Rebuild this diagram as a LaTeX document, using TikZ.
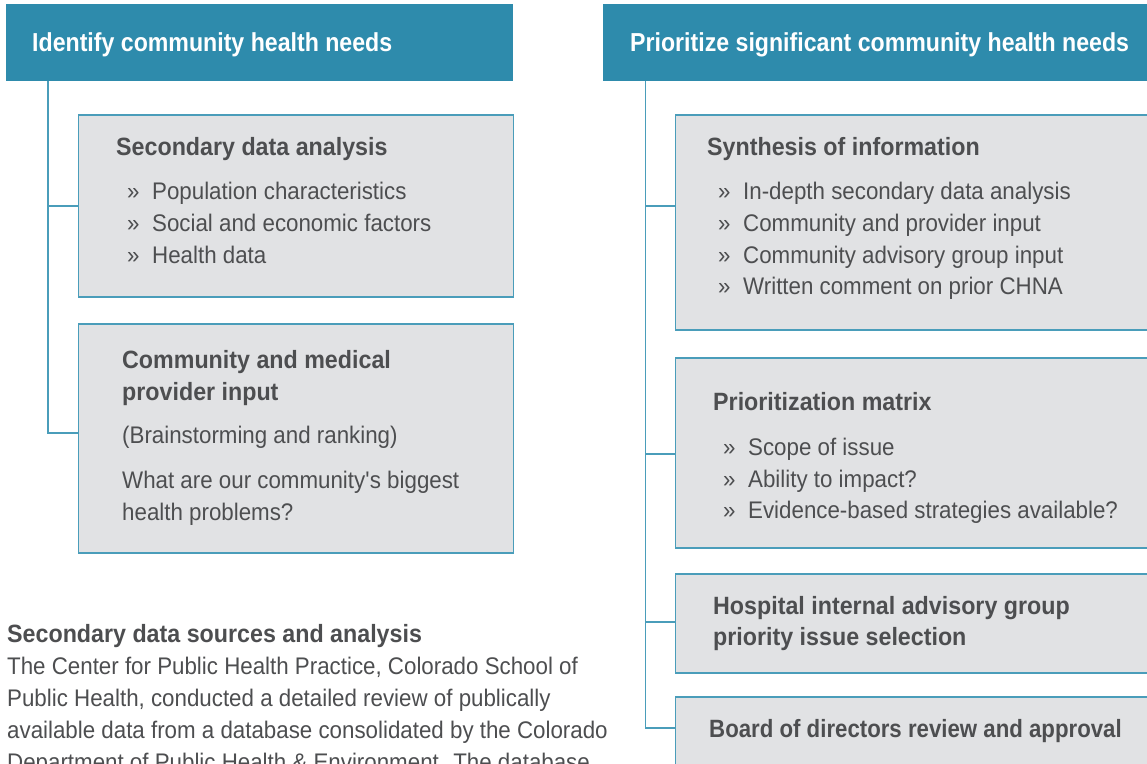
\documentclass[tikz,border=0pt]{standalone}
\usepackage{fontspec}
\setmainfont{Liberation Sans}[FakeStretch=0.93]
\newfontfamily\hdrfont{Liberation Sans}[FakeStretch=0.89]
\definecolor{hdr}{HTML}{2E8BAC}
\definecolor{boxfill}{HTML}{E1E2E4}
\definecolor{boxline}{HTML}{4A9DBA}
\definecolor{txt}{HTML}{4D4E50}
\newcommand{\bul}{\makebox[25pt][l]{»}}
\begin{document}
\begin{tikzpicture}[x=1pt,y=-1pt,
  header/.style={fill=hdr, draw=none, anchor=north west, inner sep=0pt, outer sep=0pt},
  box/.style={fill=boxfill, draw=boxline, line width=1.2pt, anchor=north west, inner sep=0pt, outer sep=0pt},
  conn/.style={draw=boxline, line width=1.3pt},
  htext/.style={anchor=base west, text=white, font=\hdrfont\bfseries\fontsize{26}{30}\selectfont, inner sep=0pt},
  btitle/.style={anchor=base west, text=txt, font=\bfseries\fontsize{25}{30}\selectfont, inner sep=0pt},
  btext/.style={anchor=base west, text=txt, font=\fontsize{24}{30}\selectfont, inner sep=0pt},
]
\useasboundingbox (0,0) rectangle (1147,763);
\clip (0,0) rectangle (1147,763);
\fill[white] (0,0) rectangle (1147,763);

% headers
\node[header, minimum width=507pt, minimum height=77pt] (h1) at (6,4) {};
\node[htext] (h1t) at (32,51) {Identify community health needs};
\node[header, minimum width=560pt, minimum height=77pt] (h2) at (603,4) {};
\node[htext] (h2t) at (630,51) {Prioritize significant community health needs};

% left boxes
\node[box, minimum width=435pt, minimum height=182pt] (b1) at (78.5,115) {};
\node[box, minimum width=435pt, minimum height=229pt] (b2) at (78.5,324) {};
% right boxes
\node[box, minimum width=500pt, minimum height=215pt] (b3) at (675.5,115) {};
\node[box, minimum width=500pt, minimum height=190pt] (b4) at (675.5,358) {};
\node[box, minimum width=500pt, minimum height=99pt] (b5) at (675.5,574) {};
\node[box, minimum width=500pt, minimum height=100pt] (b6) at (675.5,697) {};

% connectors
\coordinate (s1) at (48,81);
\coordinate (s2) at (645.5,81);
\draw[conn] (s1) |- ([yshift=-91pt]b1.north west);
\draw[conn] (s1) |- ([yshift=-109pt]b2.north west);
\draw[conn] (s2) |- ([yshift=-91pt]b3.north west);
\draw[conn] (s2) |- ([yshift=-96pt]b4.north west);
\draw[conn] (s2) |- ([yshift=-48pt]b5.north west);
\draw[conn] (s2) |- ([yshift=-31pt]b6.north west);

% box 1 text
\node[btitle] (b1t) at (116,155) {Secondary data analysis};
\node[btext] (b1a) at (127,199) {\bul Population characteristics};
\node[btext] (b1b) at (127,231) {\bul Social and economic factors};
\node[btext] (b1c) at (127,263) {\bul Health data};

% box 2 text
\node[btitle] (b2t1) at (122,368) {Community and medical};
\node[btitle] (b2t2) at (122,400) {provider input};
\node[btext] (b2a) at (122,443) {(Brainstorming and ranking)};
\node[btext] (b2b) at (122,488) {What are our community\textquotesingle s biggest};
\node[btext] (b2c) at (122,520) {health problems?};

% box 3 text
\node[btitle] (b3t) at (707,155) {Synthesis of information};
\node[btext] (b3a) at (718,199) {\bul In-depth secondary data analysis};
\node[btext] (b3b) at (718,231) {\bul Community and provider input};
\node[btext] (b3c) at (718,263) {\bul Community advisory group input};
\node[btext] (b3d) at (718,294) {\bul Written comment on prior CHNA};

% box 4 text
\node[btitle] (b4t) at (713,410) {Prioritization matrix};
\node[btext] (b4a) at (723,455) {\bul Scope of issue};
\node[btext] (b4b) at (723,487) {\bul Ability to impact?};
\node[btext] (b4c) at (723,518) {\bul Evidence-based strategies available?};

% box 5 text
\node[btitle] (b5t1) at (713,614) {Hospital internal advisory group};
\node[btitle] (b5t2) at (713,645) {priority issue selection};

% box 6 text
\node[btitle] (b6t) at (709,737) {\scalebox{0.956}[1]{Board of directors review and approval}};

% bottom-left text
\node[btitle] (st) at (7,642) {Secondary data sources and analysis};
\node[btext] (s1l) at (7,674) {The Center for Public Health Practice, Colorado School of};
\node[btext] (s2l) at (7,706) {Public Health, conducted a detailed review of publically};
\node[btext] (s3l) at (7,738) {available data from a database consolidated by the Colorado};
\node[btext] (s4l) at (7,770) {Department of Public Health \& Environment. The database};
\end{tikzpicture}
\end{document}
